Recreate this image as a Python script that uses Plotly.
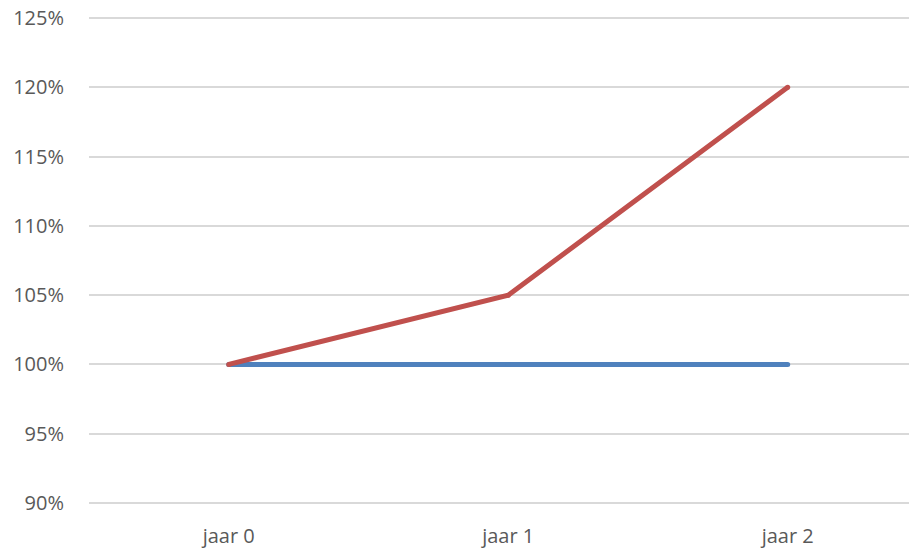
import plotly.graph_objects as go

# Categories and series values
years = ["jaar 0", "jaar 1", "jaar 2"]
baseline = [1.00, 1.00, 1.00]
growth = [1.00, 1.05, 1.20]

fig = go.Figure()
for values, color in ((baseline, "#4F81BD"), (growth, "#C0504D")):
    fig.add_trace(go.Scatter(
        x=years, y=values, mode="lines+markers",
        line=dict(color=color, width=5),
        marker=dict(color=color, size=5, line=dict(width=0)),
        showlegend=False, hoverinfo="skip",
    ))

fig.update_layout(
    width=909, height=548,
    margin=dict(l=89, r=0, t=15, b=42),
    paper_bgcolor="white", plot_bgcolor="white",
    font=dict(family="Open Sans", size=20, color="#595959"),
    xaxis=dict(
        type="category",
        range=[-0.5, 2.434],
        showgrid=False, zeroline=False, showline=False,
        ticks="outside", ticklen=12, tickcolor="rgba(0,0,0,0)",
    ),
    yaxis=dict(
        range=[0.8978, 1.2522], dtick=0.05, tick0=0.90,
        tickformat=".0%",
        showgrid=True, gridcolor="#D9D9D9", gridwidth=1.5,
        zeroline=False, showline=False,
        ticks="outside", ticklen=20, tickcolor="rgba(0,0,0,0)",
    ),
)

fig.write_html("out.html")
